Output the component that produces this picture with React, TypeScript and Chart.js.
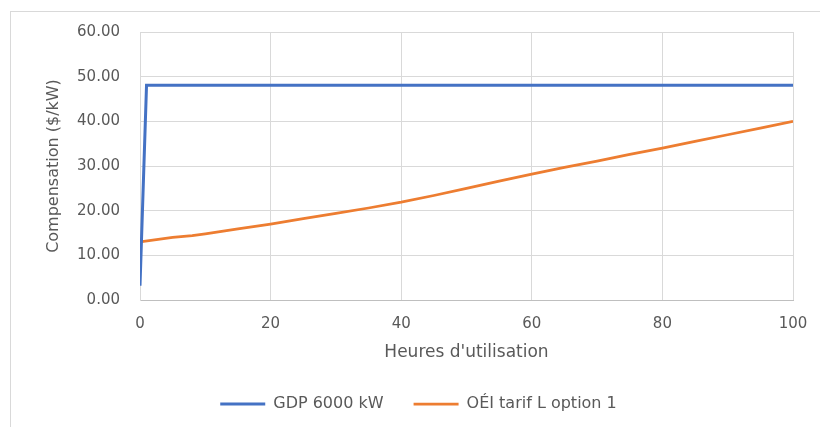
import { useEffect, useRef } from "react";
import { Chart, registerables } from "chart.js";

Chart.register(...registerables);

// GDP 6000 kW compensation by hours of use
const gdpHours = [0, 1, 100];
const gdpValues = [3.2, 48.1, 48.1];

// OÉI tarif L option 1 compensation by hours of use
const oeiHours = [0, 5, 8, 10, 15, 20, 25, 30, 35, 40, 45, 50, 55, 60, 65, 70, 75, 80, 85, 90, 95, 100];
const oeiValues = [13.0, 14.0, 14.4, 14.8, 15.9, 17.0, 18.2, 19.4, 20.6, 21.9, 23.4, 25.0, 26.6, 28.2, 29.7, 31.1, 32.6, 34.0, 35.5, 37.0, 38.5, 40.0];

const seriesLabels = ["GDP 6000 kW", "OÉI tarif L option 1"];
const xTitle = "Heures d'utilisation";
const yTitle = "Compensation ($/kW)";

const FONT = "'DejaVu Sans', sans-serif";
const TEXT = "#595959";

const framePlugin = {
  id: "frame",
  beforeDraw(chart: Chart) {
    const { ctx, width, height } = chart;
    ctx.save();
    ctx.fillStyle = "#ffffff";
    ctx.fillRect(0, 0, width, height);
    ctx.strokeStyle = "#d9d9d9";
    ctx.lineWidth = 1;
    ctx.strokeRect(10.5, 11.5, width + 20, height + 20);
    ctx.restore();
  },
};

export default function App() {
  const canvasRef = useRef<HTMLCanvasElement | null>(null);

  useEffect(() => {
    if (!canvasRef.current) return;
    const chart = new Chart(canvasRef.current, {
      type: "line",
      data: {
        datasets: [
          {
            label: seriesLabels[0],
            data: gdpHours.map((h, i) => ({ x: h, y: gdpValues[i] })),
            borderColor: "#4472C4",
            backgroundColor: "#4472C4",
            borderWidth: 3,
            pointRadius: 0,
            tension: 0,
          },
          {
            label: seriesLabels[1],
            data: oeiHours.map((h, i) => ({ x: h, y: oeiValues[i] })),
            borderColor: "#ED7D31",
            backgroundColor: "#ED7D31",
            borderWidth: 2.75,
            pointRadius: 0,
            tension: 0,
          },
        ],
      },
      options: {
        responsive: false,
        animation: false,
        layout: { padding: { top: 32, left: 44, right: 27, bottom: 15 } },
        scales: {
          x: {
            type: "linear",
            min: 0,
            max: 100,
            ticks: {
              stepSize: 20,
              padding: 15,
              color: TEXT,
              font: { family: FONT, size: 15 },
            },
            grid: { color: "#d9d9d9", drawTicks: false },
            border: { color: "#bfbfbf", width: 1 },
            title: {
              display: true,
              text: xTitle,
              color: TEXT,
              font: { family: FONT, size: 17 },
              padding: { top: 10, bottom: 3 },
            },
            afterFit(scale: any) {
              scale.height = 66;
              scale.paddingLeft = 0;
              scale.paddingRight = 0;
            },
          },
          y: {
            min: 0,
            max: 60,
            ticks: {
              stepSize: 10,
              padding: 20,
              color: TEXT,
              font: { family: FONT, size: 15 },
              callback: (v: number | string) => Number(v).toFixed(2),
            },
            grid: { color: "#d9d9d9", drawTicks: false },
            border: { color: "#d9d9d9", width: 1 },
            title: {
              display: true,
              text: yTitle,
              color: TEXT,
              font: { family: FONT, size: 16 },
              padding: { top: 0, bottom: 0 },
            },
            afterFit(scale: any) {
              scale.width = 96;
            },
          },
        },
        plugins: {
          legend: {
            position: "bottom",
            maxHeight: 46,
            labels: {
              usePointStyle: true,
              pointStyle: "line",
              pointStyleWidth: 45,
              boxHeight: 3,
              padding: 30,
              color: TEXT,
              font: { family: FONT, size: 16 },
            },
          },
          tooltip: { enabled: false },
        },
      },
      plugins: [framePlugin],
    });
    return () => chart.destroy();
  }, []);

  return (
    <div style={{ position: "fixed", left: 0, top: 0, width: 820, height: 427 }}>
      <canvas ref={canvasRef} width={820} height={427} />
    </div>
  );
}
